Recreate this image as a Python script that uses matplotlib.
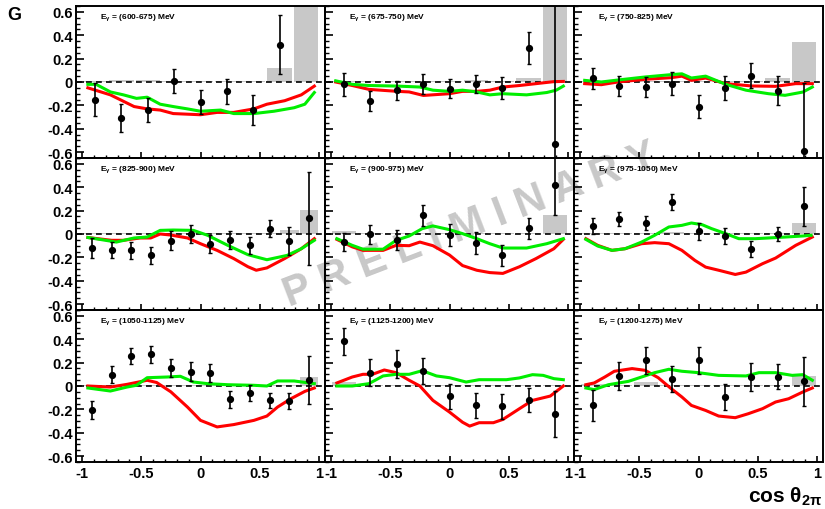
import numpy as np
import matplotlib
matplotlib.use('Agg')
import matplotlib.pyplot as plt
from matplotlib.ticker import MultipleLocator

plt.rcParams['font.family'] = ['Liberation Sans', 'DejaVu Sans']
plt.rcParams['font.weight'] = 'bold'
plt.rcParams['mathtext.fontset'] = 'custom'
plt.rcParams['mathtext.rm'] = 'Liberation Sans:bold'
plt.rcParams['mathtext.it'] = 'Liberation Sans:bold'
plt.rcParams['mathtext.bf'] = 'Liberation Sans:bold'

nan = np.nan

energy_bins = ['600-675', '675-750', '750-825', '825-900', '900-975',
               '975-1050', '1050-1125', '1125-1200', '1200-1275']

x9 = [-0.889, -0.667, -0.444, -0.222, 0.0, 0.222, 0.444, 0.667, 0.889]
x12 = [-0.917, -0.75, -0.583, -0.417, -0.25, -0.083, 0.083, 0.25, 0.417,
       0.583, 0.75, 0.917]
bins_used = [x9, x9, x9, x12, x9, x9, x12, x9, x9]

# measured G with statistical errors
g_vals = [
    [-0.15, -0.31, -0.24, 0.01, -0.17, -0.08, -0.24, 0.32, nan],
    [-0.02, -0.165, -0.07, -0.015, -0.057, -0.017, -0.05, 0.29, -0.53],
    [0.03, -0.037, -0.043, -0.015, -0.21, -0.05, 0.055, -0.075, -0.59],
    [-0.12, -0.135, -0.14, -0.18, -0.057, 0.0, -0.086, -0.05, -0.097,
     0.046, -0.06, 0.134],
    [-0.069, -0.003, -0.054, 0.16, -0.011, -0.074, -0.183, 0.051, 0.42],
    [0.069, 0.131, 0.094, 0.274, 0.023, -0.017, -0.126, 0.0, 0.237],
    [-0.203, 0.097, 0.254, 0.271, 0.157, 0.123, 0.111, -0.114, -0.06,
     -0.123, -0.129, 0.049],
    [0.383, 0.114, 0.189, 0.129, -0.089, -0.166, -0.174, -0.123, -0.237],
    [-0.166, 0.086, 0.22, 0.06, 0.22, -0.094, 0.077, 0.08, 0.04],
]
g_errs = [
    [0.14, 0.12, 0.105, 0.10, 0.10, 0.105, 0.13, 0.25, nan],
    [0.097, 0.085, 0.08, 0.085, 0.08, 0.08, 0.095, 0.14, 1.3],
    [0.09, 0.085, 0.087, 0.097, 0.10, 0.10, 0.107, 0.125, 0.58],
    [0.086, 0.07, 0.07, 0.073, 0.083, 0.08, 0.074, 0.078, 0.07, 0.07,
     0.117, 0.40],
    [0.08, 0.08, 0.086, 0.09, 0.093, 0.093, 0.09, 0.09, 0.26],
    [0.065, 0.06, 0.063, 0.071, 0.071, 0.07, 0.067, 0.06, 0.167],
    [0.076, 0.073, 0.069, 0.071, 0.076, 0.083, 0.074, 0.07, 0.066, 0.066,
     0.066, 0.207],
    [0.117, 0.117, 0.117, 0.113, 0.11, 0.109, 0.106, 0.103, 0.196],
    [0.133, 0.12, 0.114, 0.11, 0.114, 0.114, 0.116, 0.109, 0.211],
]
# systematic uncertainty (grey histogram)
g_sys = [
    [0.005, 0.015, 0.015, 0.005, 0.005, 0.005, 0.01, 0.12, 0.9],
    [0.01, 0.005, 0.005, 0.005, 0.005, 0.015, 0.005, 0.03, 0.9],
    [0.005, 0.005, 0.005, 0.005, 0.005, 0.01, 0.005, 0.03, 0.34],
    [0.005, 0.01, 0.01, 0.01, 0.005, 0.005, 0.01, 0.005, 0.005, 0.005,
     0.03, 0.205],
    [0.025, 0.005, 0.005, 0.005, 0.005, 0.005, 0.005, 0.005, 0.166],
    [0.005, 0.005, 0.005, 0.017, 0.005, 0.01, 0.005, 0.005, 0.097],
    [0.005, 0.005, 0.005, 0.005, 0.005, 0.005, 0.005, 0.005, 0.005, 0.005,
     0.005, 0.077],
    [0.034, 0.005, 0.005, 0.005, 0.005, 0.005, 0.005, 0.005, 0.005],
    [0.017, 0.01, 0.034, 0.005, 0.005, 0.005, 0.005, 0.005, 0.083],
]

# model curves
red_x = [
    [-0.95, -0.76, -0.56, -0.45, -0.34, -0.23, 0.0, 0.14, 0.28, 0.45, 0.56, 0.71, 0.85, 0.96],
    [-0.96, -0.82, -0.68, -0.44, -0.34, -0.22, 0.0, 0.11, 0.23, 0.34, 0.45, 0.59, 0.73, 0.88, 0.96],
    [-0.96, -0.82, -0.68, -0.45, -0.23, -0.14, -0.06, 0.06, 0.23, 0.45, 0.65, 0.82, 0.96],
    [-0.95, -0.75, -0.65, -0.51, -0.42, -0.34, -0.25, -0.11, 0.0, 0.14, 0.28, 0.40, 0.47, 0.56, 0.71, 0.85, 0.96],
    [-0.95, -0.82, -0.73, -0.56, -0.45, -0.34, -0.25, -0.14, 0.0, 0.11, 0.23, 0.34, 0.45, 0.59, 0.73, 0.88, 0.96],
    [-0.95, -0.85, -0.73, -0.62, -0.48, -0.37, -0.25, -0.14, -0.03, 0.06, 0.17, 0.31, 0.40, 0.54, 0.65, 0.82, 0.96],
    [-0.95, -0.76, -0.62, -0.45, -0.37, -0.25, -0.11, 0.0, 0.14, 0.28, 0.45, 0.56, 0.65, 0.76, 0.88, 0.96],
    [-0.95, -0.82, -0.73, -0.65, -0.55, -0.45, -0.34, -0.25, -0.14, 0.0, 0.11, 0.17, 0.25, 0.37, 0.45, 0.59, 0.70, 0.85, 0.96],
    [-0.95, -0.88, -0.79, -0.71, -0.56, -0.45, -0.34, -0.23, -0.14, -0.06, 0.06, 0.17, 0.31, 0.42, 0.54, 0.65, 0.76, 0.88, 0.96],
]
red_y = [
    [-0.05, -0.11, -0.21, -0.23, -0.24, -0.27, -0.28, -0.26, -0.26, -0.23, -0.19, -0.16, -0.11, -0.035],
    [0.0, -0.03, -0.063, -0.08, -0.085, -0.115, -0.1, -0.08, -0.08, -0.07, -0.043, -0.03, -0.014, 0.003, 0.005],
    [-0.014, -0.023, 0.0, 0.023, 0.037, 0.05, 0.014, 0.034, -0.014, -0.034, -0.037, -0.014, -0.014],
    [-0.03, -0.054, -0.054, -0.034, -0.034, 0.0, -0.009, -0.034, -0.083, -0.14, -0.21, -0.28, -0.31, -0.29, -0.21, -0.126, -0.04],
    [-0.046, -0.11, -0.14, -0.14, -0.097, -0.1, -0.069, -0.1, -0.18, -0.27, -0.31, -0.33, -0.337, -0.28, -0.21, -0.126, -0.046],
    [-0.04, -0.097, -0.14, -0.126, -0.083, -0.074, -0.083, -0.14, -0.226, -0.283, -0.31, -0.346, -0.326, -0.254, -0.206, -0.097, -0.026],
    [0.0, -0.009, 0.014, 0.049, 0.03, -0.05, -0.18, -0.294, -0.35, -0.33, -0.294, -0.257, -0.18, -0.11, -0.046, -0.017],
    [0.026, 0.077, 0.1, 0.1, 0.137, 0.114, 0.049, 0.0, -0.123, -0.223, -0.31, -0.343, -0.314, -0.314, -0.286, -0.194, -0.123, -0.086, 0.0],
    [0.011, 0.026, 0.077, 0.126, 0.149, 0.134, 0.071, -0.023, -0.094, -0.166, -0.209, -0.257, -0.271, -0.237, -0.194, -0.137, -0.109, -0.051, -0.017],
]
green_x = [
    [-0.95, -0.88, -0.76, -0.65, -0.54, -0.45, -0.34, -0.23, -0.11, 0.0, 0.17, 0.28, 0.45, 0.62, 0.79, 0.88, 0.96],
    [-0.96, -0.82, -0.68, -0.44, -0.25, -0.14, 0.0, 0.11, 0.23, 0.34, 0.45, 0.65, 0.82, 0.90, 0.96],
    [-0.96, -0.82, -0.68, -0.45, -0.23, -0.14, -0.06, 0.06, 0.23, 0.40, 0.59, 0.73, 0.88, 0.96],
    [-0.95, -0.85, -0.71, -0.56, -0.45, -0.34, -0.23, -0.06, 0.06, 0.23, 0.40, 0.56, 0.73, 0.85, 0.96],
    [-0.95, -0.82, -0.73, -0.56, -0.45, -0.34, -0.23, -0.14, 0.0, 0.11, 0.23, 0.34, 0.45, 0.65, 0.82, 0.96],
    [-0.95, -0.85, -0.73, -0.62, -0.48, -0.37, -0.25, -0.14, -0.06, 0.03, 0.11, 0.23, 0.34, 0.48, 0.59, 0.73, 0.88, 0.95],
    [-0.95, -0.76, -0.62, -0.54, -0.45, -0.28, -0.17, -0.06, 0.06, 0.23, 0.45, 0.56, 0.65, 0.79, 0.96],
    [-0.95, -0.82, -0.68, -0.56, -0.45, -0.34, -0.23, -0.11, 0.0, 0.14, 0.25, 0.48, 0.59, 0.70, 0.79, 0.88, 0.96],
    [-0.95, -0.88, -0.76, -0.59, -0.48, -0.37, -0.25, -0.14, 0.0, 0.17, 0.40, 0.51, 0.65, 0.79, 0.88, 0.96],
]
green_y = [
    [-0.02, -0.02, -0.085, -0.11, -0.14, -0.13, -0.19, -0.21, -0.23, -0.25, -0.24, -0.27, -0.27, -0.25, -0.22, -0.19, -0.09],
    [0.01, -0.02, -0.03, -0.035, -0.043, -0.07, -0.08, -0.07, -0.085, -0.11, -0.1, -0.11, -0.09, -0.07, -0.035],
    [0.014, 0.0, 0.017, 0.043, 0.063, 0.07, 0.034, 0.05, -0.02, -0.07, -0.1, -0.114, -0.086, -0.043],
    [-0.03, -0.046, -0.069, -0.034, -0.026, 0.031, 0.034, 0.031, -0.011, -0.097, -0.177, -0.22, -0.183, -0.126, -0.054],
    [-0.04, -0.097, -0.13, -0.13, -0.054, -0.017, 0.046, 0.069, 0.037, 0.003, -0.04, -0.083, -0.12, -0.12, -0.083, -0.04],
    [-0.046, -0.103, -0.14, -0.126, -0.069, -0.011, 0.06, 0.074, 0.094, 0.08, 0.046, 0.003, -0.04, -0.04, -0.034, -0.026, -0.017, -0.011],
    [-0.017, -0.043, -0.009, 0.006, 0.071, 0.077, 0.083, 0.034, 0.02, 0.011, 0.006, 0.0, 0.043, 0.043, 0.02],
    [0.0, 0.0, 0.02, 0.086, 0.1, 0.1, 0.131, 0.086, 0.071, 0.034, 0.054, 0.054, 0.069, 0.097, 0.091, 0.063, 0.054],
    [-0.017, -0.031, 0.011, 0.04, 0.077, 0.114, 0.143, 0.126, 0.114, 0.091, 0.086, 0.114, 0.114, 0.091, 0.097, 0.049],
]

W, H = 825, 510
fig = plt.figure(figsize=(W / 100, H / 100), dpi=100)
fig.patch.set_facecolor('white')

pan_w, pan_h = 249, 152
for i in range(9):
    row, col = divmod(i, 3)
    x0 = 76 + col * pan_w
    top = 7 + row * pan_h
    ax = fig.add_axes([x0 / W, (H - top - pan_h) / H, pan_w / W, pan_h / H])
    ax.set_facecolor('none')

    xs = bins_used[i]
    bw = 2.0 / len(xs)
    ax.bar(xs, g_sys[i], width=bw * 0.92, bottom=0, color='#c8c8c8',
           edgecolor='none', zorder=1)
    ax.axhline(0, color='black', lw=1.2, ls=(0, (3.5, 2.5)), zorder=2)
    ax.plot(red_x[i], red_y[i], color='#ff0000', lw=2.2, zorder=3)
    ax.plot(green_x[i], green_y[i], color='#00ee00', lw=2.2, zorder=4)
    ax.errorbar(xs, g_vals[i], yerr=g_errs[i], fmt='o', color='black',
                ms=4.2, elinewidth=1.2, capsize=1.5, capthick=1.0, zorder=5)

    ax.set_xlim(-1.05, 1.05)
    ax.set_ylim(-0.65, 0.65)
    ax.xaxis.set_major_locator(MultipleLocator(0.5))
    ax.xaxis.set_minor_locator(MultipleLocator(0.1))
    ax.yaxis.set_major_locator(MultipleLocator(0.2))
    ax.yaxis.set_minor_locator(MultipleLocator(0.05))
    ax.tick_params(axis='y', which='major', direction='in', length=5.5,
                   width=1.2, labelsize=10.5, pad=2.5)
    ax.tick_params(axis='y', which='minor', direction='in', length=3,
                   width=1.0)
    ax.tick_params(axis='x', which='major', direction='in', length=4.5,
                   width=1.2, labelsize=10.5, pad=3)
    ax.tick_params(axis='x', which='minor', direction='in', length=2.2,
                   width=1.0)
    ax.set_xticks([-1, -0.5, 0, 0.5, 1])
    ax.set_xticklabels(['-1', '-0.5', '0', '0.5', '1'])
    ax.set_yticks([-0.6, -0.4, -0.2, 0, 0.2, 0.4, 0.6])
    ax.set_yticklabels(['-0.6', '-0.4', '-0.2', '0', '0.2', '0.4', '0.6'])
    if col != 0:
        ax.tick_params(axis='y', labelleft=False)
    if row != 2:
        ax.tick_params(axis='x', labelbottom=False)
    for sp in ax.spines.values():
        sp.set_linewidth(1.4)

    ax.text(0.096, 0.927, r'E$_{\gamma}$ = (%s) MeV' % energy_bins[i],
            transform=ax.transAxes, fontsize=6, fontweight='bold',
            ha='left', va='center')

fig.text(14 / W, 1 - 15 / H, 'G', fontsize=13, fontweight='bold',
         ha='center', va='center')
fig.text(1 - 3 / W, 7 / H, r'cos $\theta_{2\pi}$', fontsize=15,
         fontweight='bold', ha='right', va='baseline')

fig.text(470 / W, 1 - 226 / H, 'P R E L I M I N A R Y', rotation=21,
         fontsize=30, fontweight='bold', color='#c8c8c8', ha='center',
         va='center', rotation_mode='anchor', zorder=-1)

fig.savefig('out.png', dpi=100)
